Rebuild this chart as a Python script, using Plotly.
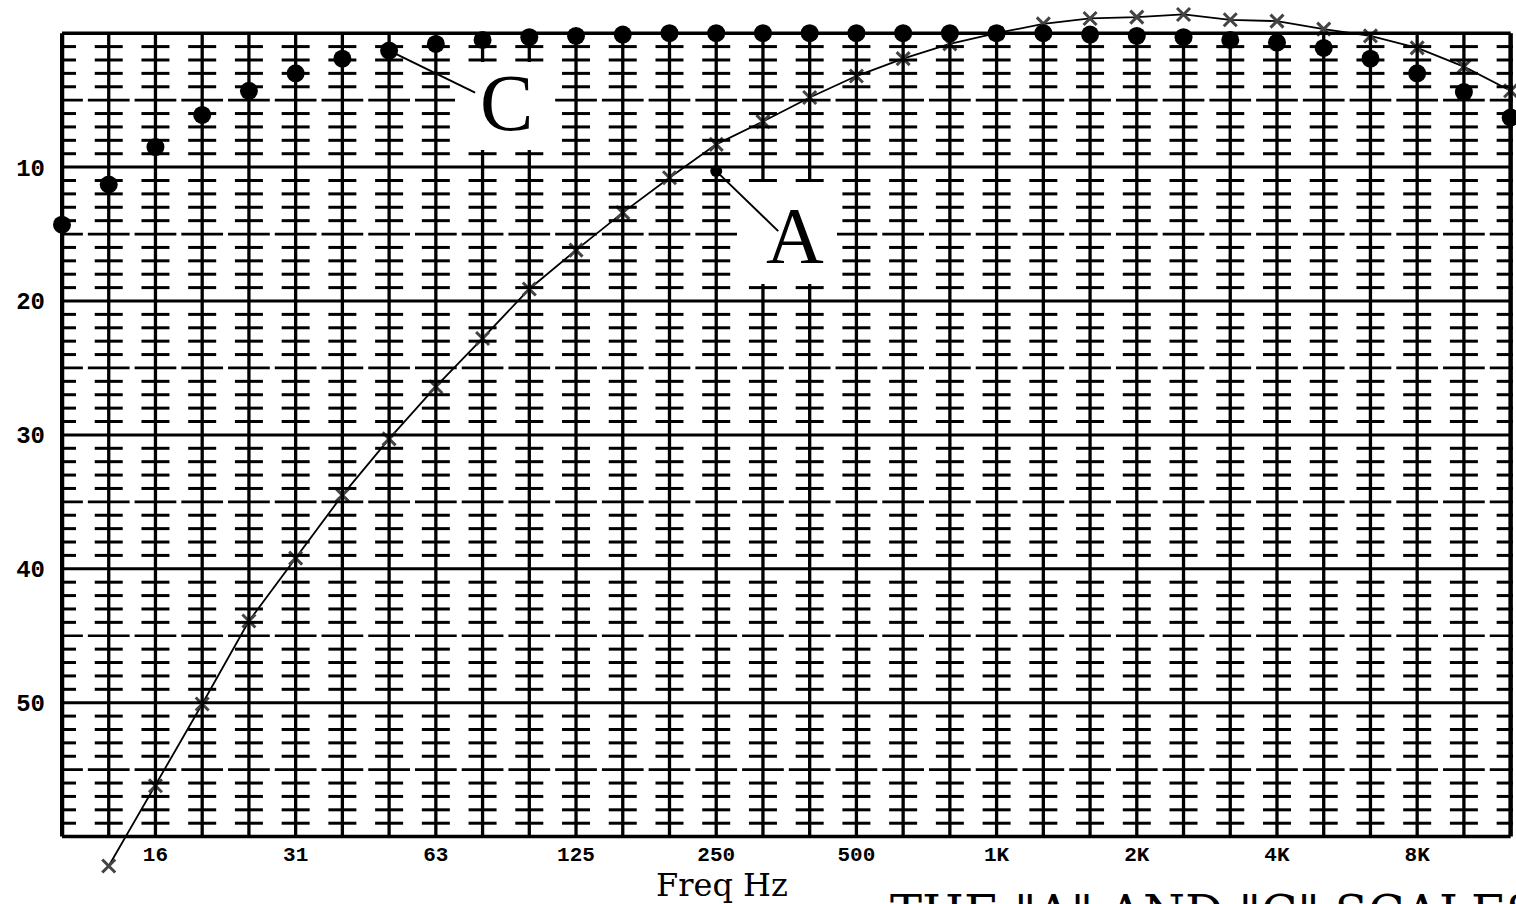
import plotly.graph_objects as go

# ---------------- data ----------------
freqs = ["10", "12.5", "16", "20", "25", "31.5", "40", "50", "63", "80", "100", "125",
         "160", "200", "250", "315", "400", "500", "630", "800", "1000", "1250", "1600",
         "2000", "2500", "3150", "4000", "5000", "6300", "8000", "10000", "12500"]
# attenuation in dB as plotted (0 at the top, growing downward)
c_scale_db = [14.3, 11.3, 8.5, 6.1, 4.3, 3.0, 1.9, 1.3, 0.8, 0.5, 0.3, 0.2, 0.1,
              0.0, 0.0, 0.0, 0.0, 0.0, 0.0, 0.0, 0.0, 0.0,
              0.1, 0.2, 0.3, 0.5, 0.7, 1.1, 1.9, 3.0, 4.4, 6.3]
a_scale_db = [None, 62.2, 56.2, 50.1, 43.9, 39.2, 34.5, 30.3, 26.4, 22.8, 19.1, 16.2,
              13.4, 10.8, 8.3, 6.6, 4.8, 3.2, 1.9, 0.8, 0.0, -0.7, -1.1, -1.2,
              -1.4, -1.0, -0.9, -0.3, 0.2, 1.1, 2.5, 4.3]

tick_freqs = ["16", "31.5", "63", "125", "250", "500", "1000", "2000", "4000", "8000"]
tick_text = ["16", "31", "63", "125", "250", "500", "1K", "2K", "4K", "8K"]
db_ticks = [10, 20, 30, 40, 50]
db_min, db_max = 0, 60

# ---------------- layout geometry ----------------
W, H = 1516, 904
L, R = 60, 1513            # plot area in px
X0_PX, CELL = 62.0, 46.73  # px of first band, px per third-octave band
Y0_PX, DB_PX = 33.2, 13.39 # px of 0 dB, px per dB

n = len(freqs)
idx = list(range(n))
xrange_ = [(L - X0_PX) / CELL, (R - X0_PX) / CELL]
yrange_ = [(H - Y0_PX) / DB_PX, (0 - Y0_PX) / DB_PX]


def px_x(p):
    return (p - L) / (R - L)


def px_y(p):
    return 1 - p / H


fig = go.Figure()

# ---------------- ruled grid (decoration) ----------------
def vlines(indices, width):
    xs, ys = [], []
    for i in indices:
        xs += [i, i, None]
        ys += [db_min, db_max, None]
    fig.add_trace(go.Scatter(x=xs, y=ys, xaxis="x2", mode="lines",
                             line=dict(color="black", width=width), hoverinfo="skip"))


def hlines(levels, width, dash="solid", x_start=0, x_end=None):
    if x_end is None:
        x_end = n - 1
    xs, ys = [], []
    for v in levels:
        xs += [x_start, x_end, None]
        ys += [v, v, None]
    fig.add_trace(go.Scatter(x=xs, y=ys, xaxis="x2", mode="lines",
                             line=dict(color="black", width=width, dash=dash),
                             hoverinfo="skip"))


vlines(idx[1:-1], 3.3)
vlines([idx[0], idx[-1]], 4.5)
hlines(list(range(db_min + 10, db_max, 10)), 3)
hlines([db_min, db_max], 3.5)
gap = 5.0
hlines(list(range(db_min + 5, db_max, 10)), 2.7,
       dash=f"{CELL - gap:.2f}px,{gap:.2f}px",
       x_start=-0.5 + (gap / 2) / CELL, x_end=n - 0.5)

# small ruler ticks at every dB on every band line
tx, ty = [], []
for i in idx:
    for d in range(db_min + 1, db_max):
        if d % 5:
            tx.append(i)
            ty.append(d)
fig.add_trace(go.Scatter(x=tx, y=ty, xaxis="x2", mode="markers",
                         marker=dict(symbol="line-ew", size=20,
                                     line=dict(color="black", width=3)),
                         hoverinfo="skip"))

# ---------------- data ----------------
fig.add_trace(go.Scatter(x=freqs, y=a_scale_db, mode="lines+markers", name="A",
                         line=dict(color="black", width=1.8),
                         marker=dict(symbol="x-thin", size=13,
                                     line=dict(color="#444444", width=3)),
                         cliponaxis=False, connectgaps=False))
fig.add_trace(go.Scatter(x=freqs, y=c_scale_db, mode="markers", name="C",
                         marker=dict(symbol="circle", size=18, color="black"),
                         cliponaxis=False))

# ---------------- labels, pointers ----------------
shapes = [
    dict(type="rect", xref="paper", yref="paper", layer="above",
         x0=px_x(455), x1=px_x(553), y0=px_y(150), y1=px_y(62),
         fillcolor="white", line=dict(width=0)),
    dict(type="rect", xref="paper", yref="paper", layer="above",
         x0=px_x(737), x1=px_x(837), y0=px_y(284), y1=px_y(182),
         fillcolor="white", line=dict(width=0)),
]
i50 = freqs.index("50")
shapes.append(dict(type="line", xref="x2", yref="y", layer="above",
                   xsizemode="pixel", ysizemode="pixel",
                   xanchor=i50, yanchor=c_scale_db[i50],
                   x0=0, y0=0, x1=86, y1=-42,
                   line=dict(color="black", width=2)))
i250 = freqs.index("250")
A_POINTER_DB = 10.3
shapes.append(dict(type="line", xref="x2", yref="y", layer="above",
                   xsizemode="pixel", ysizemode="pixel",
                   xanchor=i250, yanchor=A_POINTER_DB,
                   x0=0, y0=0, x1=62, y1=-60,
                   line=dict(color="black", width=2)))
shapes.append(dict(type="circle", xref="x2", yref="y", layer="above",
                   xsizemode="pixel", ysizemode="pixel",
                   xanchor=i250, yanchor=A_POINTER_DB,
                   x0=-6, y0=-6, x1=6, y1=6,
                   fillcolor="black", line=dict(width=0)))

annotations = [
    dict(text="C", xref="paper", yref="paper", x=px_x(506), y=px_y(103),
         xanchor="center", yanchor="middle",
         showarrow=False, font=dict(family="Liberation Serif", size=80, color="black")),
    dict(text="A", xref="paper", yref="paper", x=px_x(795), y=px_y(236),
         xanchor="center", yanchor="middle",
         showarrow=False, font=dict(family="Liberation Serif", size=80, color="black")),
    dict(text="Freq Hz", xref="paper", yref="paper", x=px_x(722), y=px_y(885),
         xanchor="center", yanchor="middle", borderpad=0,
         showarrow=False, font=dict(family="DejaVu Serif", size=32, color="black")),
    dict(text='THE "A" AND "C" SCALES', xref="paper", yref="paper",
         x=px_x(888), y=px_y(913), xanchor="left", yanchor="middle",
         showarrow=False, font=dict(family="DejaVu Serif", size=48, color="black")),
]

fig.update_layout(
    width=W, height=H,
    margin=dict(l=L, r=W - R, t=0, b=0, pad=0),
    paper_bgcolor="white", plot_bgcolor="white",
    showlegend=False,
    shapes=shapes,
    annotations=annotations,
    xaxis=dict(type="category", categoryorder="array", categoryarray=freqs,
               range=xrange_, anchor="free", automargin=False,
               position=1 - (Y0_PX + db_max * DB_PX) / H,
               tickmode="array", tickvals=tick_freqs, ticktext=tick_text,
               showgrid=False, zeroline=False, showline=False, ticks="",
               ticklabelstandoff=2,
               tickfont=dict(family="Liberation Mono", size=21, color="black", weight="bold")),
    xaxis2=dict(overlaying="x", range=xrange_, visible=False, anchor="y"),
    yaxis=dict(range=yrange_, domain=[0, 1], tickmode="array", tickvals=db_ticks,
               automargin=False,
               showgrid=False, zeroline=False, showline=False, ticks="",
               ticklabelstandoff=14,
               tickfont=dict(family="Liberation Mono", size=24, color="black", weight="bold")),
)

fig.write_html(
    "out.html",
    config={"displayModeBar": False},
    post_script=("document.body.style.margin='0';"
                 "document.body.style.overflow='hidden';"
                 "document.documentElement.style.overflow='hidden';"),
)
